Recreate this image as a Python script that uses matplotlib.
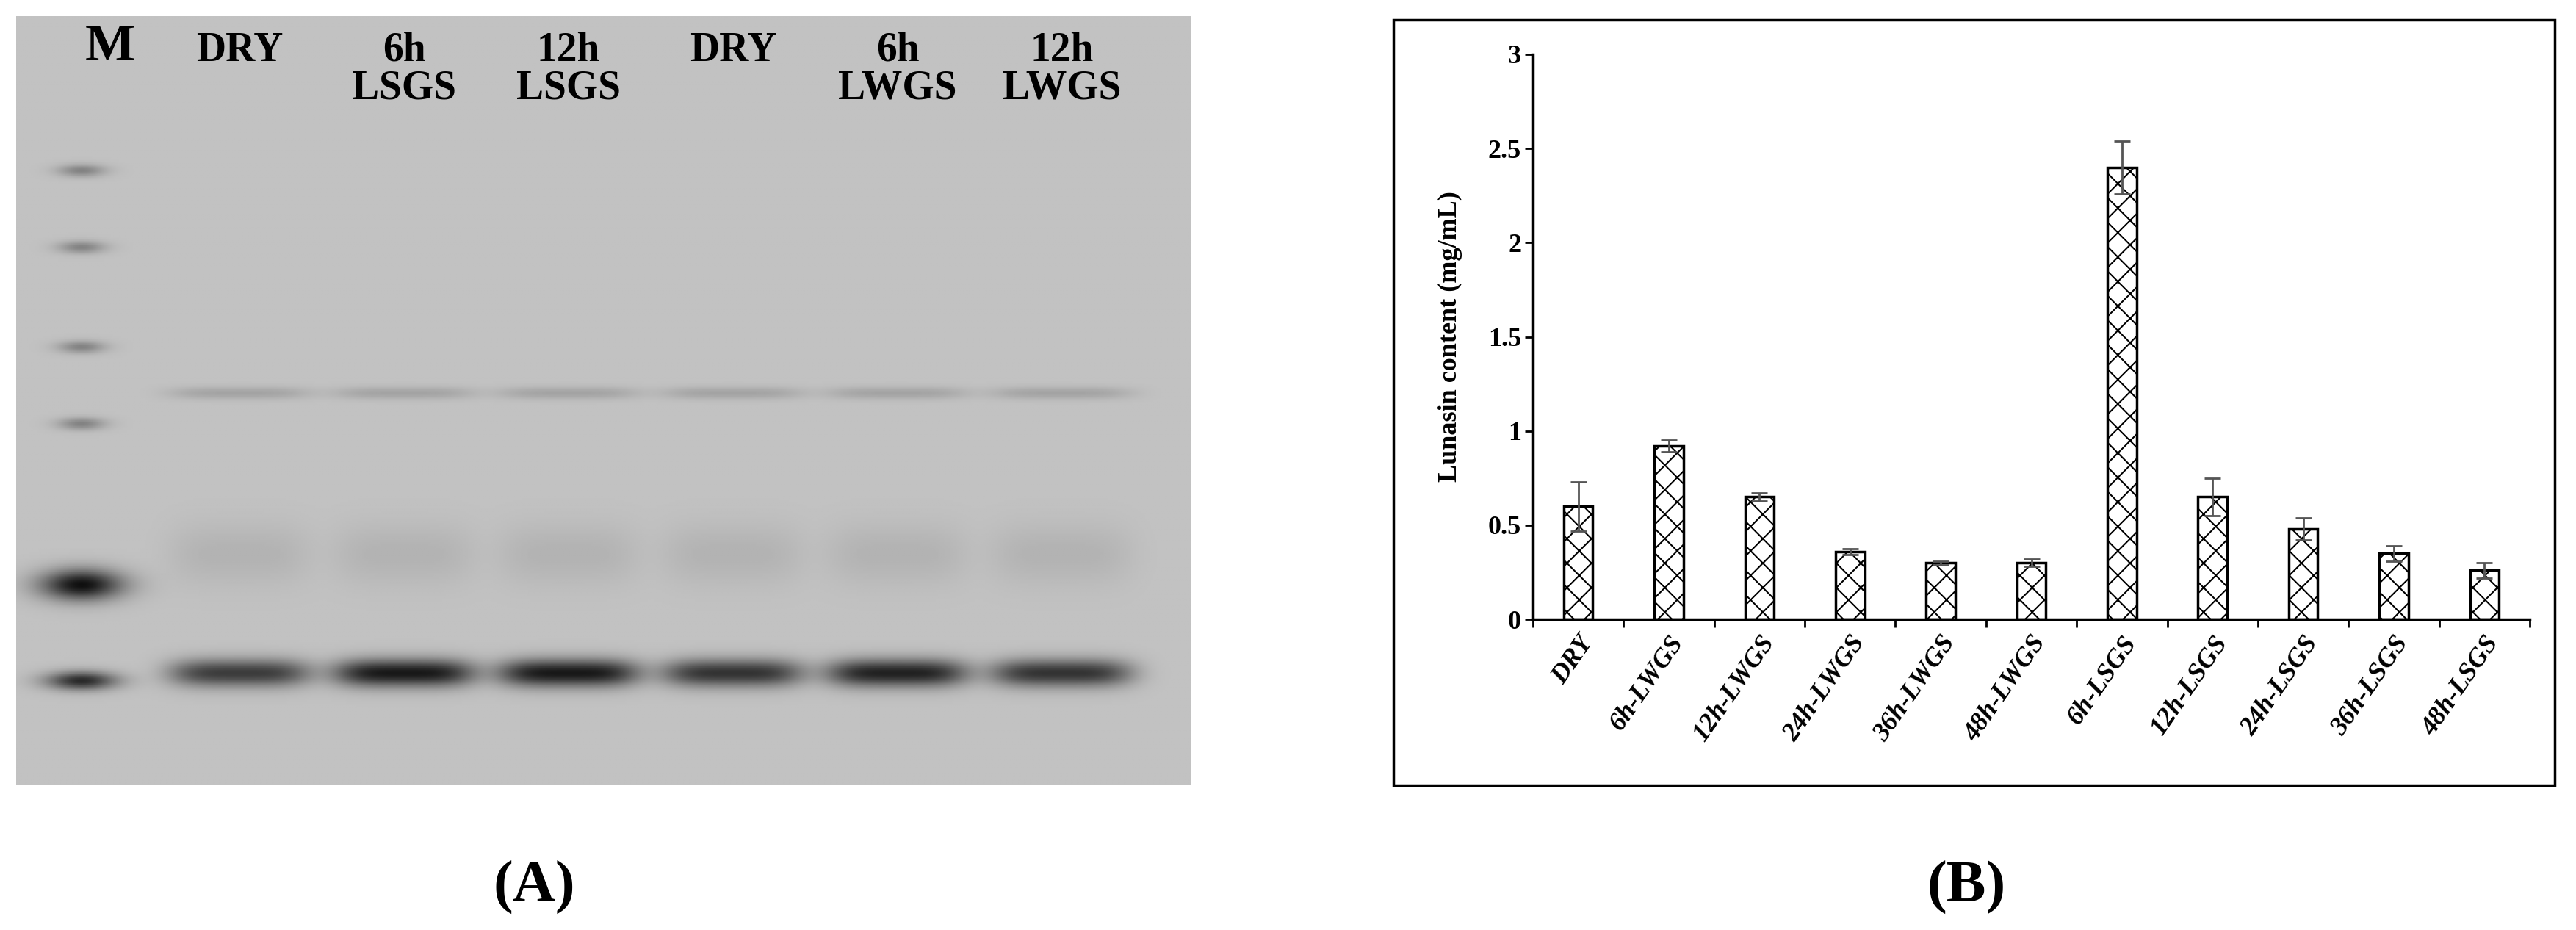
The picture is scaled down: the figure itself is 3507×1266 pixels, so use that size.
import matplotlib
matplotlib.use("Agg")
import matplotlib.pyplot as plt
import numpy as np
from matplotlib.patches import Rectangle

plt.rcParams['font.family'] = ['Liberation Serif', 'DejaVu Serif']
plt.rcParams['hatch.linewidth'] = 1.5

categories = ["DRY", "6h-LWGS", "12h-LWGS", "24h-LWGS", "36h-LWGS", "48h-LWGS",
              "6h-LSGS", "12h-LSGS", "24h-LSGS", "36h-LSGS", "48h-LSGS"]
values = [0.60, 0.92, 0.65, 0.36, 0.30, 0.30, 2.40, 0.65, 0.48, 0.35, 0.26]
errors = [0.13, 0.03, 0.02, 0.015, 0.01, 0.02, 0.14, 0.10, 0.06, 0.04, 0.04]
yticks = [0, 0.5, 1, 1.5, 2, 2.5, 3]
ytick_labels = ["0", "0.5", "1", "1.5", "2", "2.5", "3"]

blot_lanes = ["M", "DRY", "6h\nLSGS", "12h\nLSGS", "DRY", "6h\nLWGS", "12h\nLWGS"]
lane_x = [0.08, 0.19, 0.33, 0.47, 0.61, 0.75, 0.89]
lane_main_band = [0.55, 0.75, 0.95, 0.95, 0.8, 0.9, 0.8]

W, H = 3507, 1266
fig = plt.figure(figsize=(W/100, H/100), dpi=100)

# Panel A: blot rendering
axA = fig.add_axes([22/W, 1 - 1069/H, 1600/W, 1047/H])
ny, nx = 400, 600
img = np.full((ny, nx), 0.76)
yy = np.linspace(0, 1, ny)[:, None]
xx = np.linspace(0, 1, nx)[None, :]
for lx, inten in zip(lane_x[1:], lane_main_band[1:]):
    img -= 0.7 * inten * np.exp(-((yy - 0.855) / 0.018) ** 2) * np.exp(-((xx - lx) / 0.06) ** 4)
    img -= 0.12 * np.exp(-((yy - 0.49) / 0.008) ** 2) * np.exp(-((xx - lx) / 0.06) ** 4)
    img -= 0.06 * np.exp(-((yy - 0.7) / 0.04) ** 2) * np.exp(-((xx - lx) / 0.06) ** 4)
img -= 0.7 * np.exp(-((yy - 0.74) / 0.02) ** 2) * np.exp(-((xx - 0.055) / 0.035) ** 2)
img -= 0.6 * np.exp(-((yy - 0.865) / 0.012) ** 2) * np.exp(-((xx - 0.055) / 0.03) ** 2)
for by in [0.2, 0.3, 0.43, 0.53]:
    img -= 0.25 * np.exp(-((yy - by) / 0.008) ** 2) * np.exp(-((xx - 0.055) / 0.02) ** 2)
img = np.clip(img, 0, 1)
axA.imshow(img, cmap='gray', vmin=0, vmax=1, aspect='auto', extent=[0, 1, 1, 0])
axA.set_xlim(0, 1); axA.set_ylim(1, 0)
axA.axis('off')
for lab, lx in zip(blot_lanes, lane_x):
    fs = 52 if lab == "M" else 40
    axA.text(lx, 0.02 if lab != "M" else 0.01, lab, ha='center', va='top', fontsize=fs,
             fontweight='bold', linespacing=1.0)

fig.text(727/W, 1 - 1208/H, "(A)", ha='center', va='center', fontsize=58, fontweight='bold')
fig.text(2677/W, 1 - 1208/H, "(B)", ha='center', va='center', fontsize=58, fontweight='bold')

# Panel B frame
fig.add_artist(Rectangle((1897/W, 1 - 1069/H), (3478-1897)/W, (1069-27)/H,
                         transform=fig.transFigure, fill=False, lw=2.5, ec='black'))

axB = fig.add_axes([2087/W, 1 - 843/H, (3444-2087)/W, (843-74)/H])
x = np.arange(len(categories))
axB.bar(x, values, width=0.32, color='white', edgecolor='black', linewidth=2.5,
        hatch='x', zorder=2)
axB.errorbar(x, values, yerr=errors, fmt='none', ecolor='#555555', elinewidth=2,
             capsize=8, capthick=2, zorder=3)
axB.set_xlim(-0.5, len(categories) - 0.5)
axB.set_ylim(0, 3)
axB.set_yticks(yticks)
axB.set_yticklabels(ytick_labels, fontsize=26, fontweight='bold')
axB.set_xticks(np.arange(len(categories) + 1) - 0.5, minor=False)
axB.set_xticklabels([])
axB.set_xticks(x, minor=True)
axB.set_xticklabels(categories, minor=True, rotation=55, ha='right', rotation_mode='anchor',
                    fontsize=26, fontweight='bold', style='italic')
axB.tick_params(axis='x', which='minor', length=0, pad=12)
axB.tick_params(axis='x', which='major', length=8, width=2, direction='out')
axB.tick_params(axis='y', length=8, width=2, direction='out')
for s in ['top', 'right']:
    axB.spines[s].set_visible(False)
for s in ['left', 'bottom']:
    axB.spines[s].set_linewidth(2.5)
axB.set_ylabel("Lunasin content (mg/mL)", fontsize=26, fontweight='bold', labelpad=25)

fig.savefig("out.png", dpi=100)
